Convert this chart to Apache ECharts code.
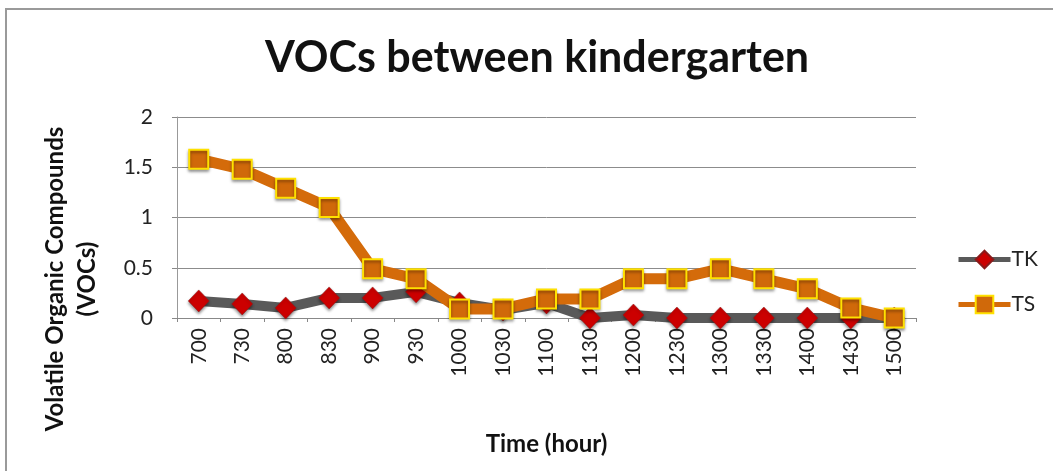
<!DOCTYPE html>
<html>
<head>
<meta charset="utf-8">
<script src="https://cdn.jsdelivr.net/npm/echarts@6/dist/echarts.min.js"></script>
<style>
  html, body { margin: 0; padding: 0; background: #fff; }
  #chart { width: 1053px; height: 471px; }
</style>
</head>
<body>
<div id="chart"></div>
<script>
// Sampling times (hour of day, hhmm)
const times = ['700', '730', '800', '830', '900', '930', '1000', '1030', '1100',
  '1130', '1200', '1230', '1300', '1330', '1400', '1430', '1500'];

// VOC readings per site
const tkValues = [0.17, 0.14, 0.10, 0.20, 0.20, 0.26, 0.15, 0.08, 0.15,
  0.00, 0.03, 0.00, 0.00, 0.00, 0.00, 0.00, 0.00];
const tsValues = [1.58, 1.48, 1.29, 1.10, 0.49, 0.39, 0.09, 0.09, 0.19,
  0.19, 0.39, 0.39, 0.49, 0.39, 0.29, 0.10, 0.00];

const yTicks = { min: 0, max: 2, interval: 0.5 };

const FONT = 'Lato, "Open Sans", sans-serif';

const chart = echarts.init(document.getElementById('chart'), null, { renderer: 'canvas' });

chart.setOption({
  animation: false,
  backgroundColor: '#ffffff',
  title: {
    text: 'VOCs between kindergarten',
    left: 532,
    textAlign: 'center',
    top: 32,
    textStyle: { fontFamily: FONT, fontWeight: 'bold', fontSize: 43, color: '#111' }
  },
  graphic: [
    {
      type: 'rect',
      shape: { x: 6, y: 9, width: 1100, height: 520 },
      style: { fill: 'none', stroke: '#9a9a9a', lineWidth: 2 },
      silent: true
    },
    {
      type: 'text',
      x: 71,
      y: 279,
      rotation: Math.PI / 2,
      style: {
        text: 'Volatile Organic Compounds\n(VOCs)',
        align: 'center',
        verticalAlign: 'middle',
        lineHeight: 32,
        fontFamily: FONT,
        fontWeight: 'bold',
        fontSize: 24,
        fill: '#111'
      }
    }
  ],
  legend: {
    orient: 'vertical',
    left: 951,
    top: 244,
    itemWidth: 52,
    itemHeight: 22,
    itemGap: 24,
    data: ['TK', 'TS'],
    lineStyle: { width: 5 },
    textStyle: { fontFamily: FONT, fontSize: 21, color: '#222', padding: [0, 0, 0, -4] }
  },
  grid: { left: 177, right: 137, top: 117, bottom: 153, containLabel: false },
  xAxis: {
    type: 'category',
    data: times,
    boundaryGap: true,
    name: 'Time (hour)',
    nameLocation: 'middle',
    nameGap: 114,
    nameTextStyle: { fontFamily: FONT, fontWeight: 'bold', fontSize: 24, color: '#111' },
    axisLine: { show: true, lineStyle: { color: '#888', width: 1 } },
    axisTick: { show: true, length: 4, lineStyle: { color: '#888' } },
    axisLabel: {
      rotate: 90,
      margin: 10,
      fontFamily: FONT,
      fontSize: 21,
      color: '#222',
      interval: 0
    },
    splitLine: { show: false }
  },
  yAxis: {
    type: 'value',
    min: yTicks.min,
    max: yTicks.max,
    interval: yTicks.interval,
    axisLine: { show: true, lineStyle: { color: '#999', width: 1 } },
    axisTick: { show: true, length: 5, lineStyle: { color: '#888' } },
    axisLabel: { margin: 24, fontFamily: FONT, fontSize: 21, color: '#222' },
    splitLine: { show: true, lineStyle: { color: '#8c8c8c', width: 1 } }
  },
  series: [
    {
      name: 'TK',
      type: 'line',
      data: tkValues,
      symbol: 'diamond',
      symbolSize: [21, 22],
      lineStyle: { color: '#595959', width: 10 },
      itemStyle: {
        color: '#cc0000', borderColor: '#8a1a1a', borderWidth: 0.5,
        shadowColor: 'rgba(0,0,0,0.45)', shadowBlur: 3, shadowOffsetY: 2
      },
      z: 2
    },
    {
      name: 'TS',
      type: 'line',
      data: tsValues,
      symbol: 'rect',
      symbolSize: 19,
      lineStyle: { color: '#d46b0a', width: 11 },
      itemStyle: {
        color: '#d0690a', borderColor: '#ffe100', borderWidth: 2,
        shadowColor: 'rgba(0,0,0,0.4)', shadowBlur: 3, shadowOffsetY: 2
      },
      z: 3
    }
  ]
});
</script>
</body>
</html>
